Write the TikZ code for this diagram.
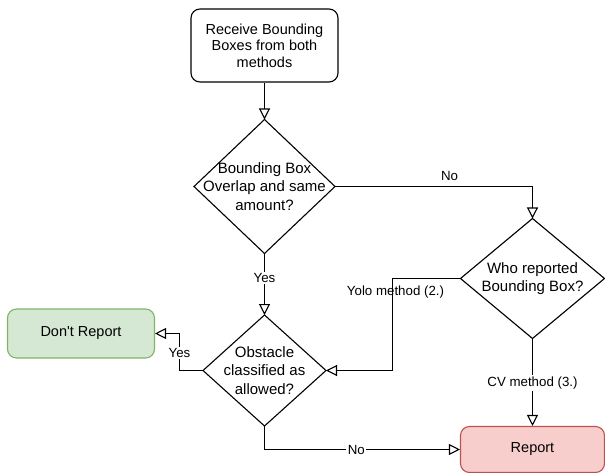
\documentclass[tikz,border=0pt]{standalone}
\usepackage{fontspec}
\setmainfont{Liberation Sans}
\usetikzlibrary{shapes.geometric,arrows.meta}

\definecolor{okfill}{HTML}{D5E8D4}
\definecolor{okline}{HTML}{82B366}
\definecolor{badfill}{HTML}{F8CECC}
\definecolor{badline}{HTML}{B85450}

\begin{document}
\begin{tikzpicture}[x=1pt, y=-1pt,
		box/.style={draw, line width=1.1pt, rounded corners=9pt, align=center, inner sep=0pt, font=\fontsize{14.5}{16.5}\selectfont},
		choice/.style={draw, line width=1.1pt, shape=diamond, inner sep=0pt, outer sep=0pt},
		txt/.style={align=center, inner sep=0pt, font=\fontsize{15}{18.5}\selectfont},
		flow/.style={line width=1.1pt, -{Triangle[open, length=11pt, width=11pt]}},
		lbl/.style={font=\fontsize{13.3}{15}\selectfont, inner sep=1.5pt},
		onlbl/.style={lbl, fill=white}]
	
	\useasboundingbox (0,0) rectangle (605,473);
	
	% boxes
	\node[box, minimum width=147pt, minimum height=73pt] (start) at (264.5,45.5) {Receive Bounding\\Boxes from both\\methods};
	\node[box, minimum width=147pt, minimum height=49pt, fill=okfill, draw=okline] (dont) at (81,333.5) {Don\textquotesingle t Report};
	\node[box, minimum width=144pt, minimum height=46pt, fill=badfill, draw=badline] (report) at (532.5,449.5) {Report};
	
	% decisions
	\node[choice, minimum width=141pt, minimum height=134pt] (overlap) at (264.5,186.5) {};
	\node[txt] (overlaptxt) at (overlap) {Bounding Box\\Overlap and same\\amount?};
	
	\node[choice, minimum width=144pt, minimum height=120pt] (who) at (532.5,278.5) {};
	\node[txt] (whotxt) at (who) {Who reported\\Bounding Box?};
	
	\node[choice, minimum width=123pt, minimum height=111pt] (allowed) at (264.5,370.5) {};
	\node[txt] (allowedtxt) at (allowed) {Obstacle\\classified as\\allowed?};
	
	% connectors
	\draw[flow] (start.south) -- (overlap.north);
	\draw[flow] (overlap.east) -| node[lbl, above, pos=0.29, yshift=4pt] {No} (who.north);
	\draw[flow] (overlap.south) -- node[onlbl, pos=0.4] {Yes} (allowed.north);
	\draw[flow] (who.west) -- ++(-68,0) |- node[lbl, pos=0.075, xshift=3pt] {Yolo method (2.)} (allowed.east);
	\draw[flow] (who.south) -- node[onlbl, pos=0.51] {CV method (3.)} (report.north);
	\draw[flow] (allowed.south) |- node[onlbl, pos=0.735] {No} (report.west);
	\draw[flow] (allowed.west) -- ++(-23.5,0) |- node[onlbl, pos=0.24] {Yes} (dont.east);
	
\end{tikzpicture}
\end{document}
